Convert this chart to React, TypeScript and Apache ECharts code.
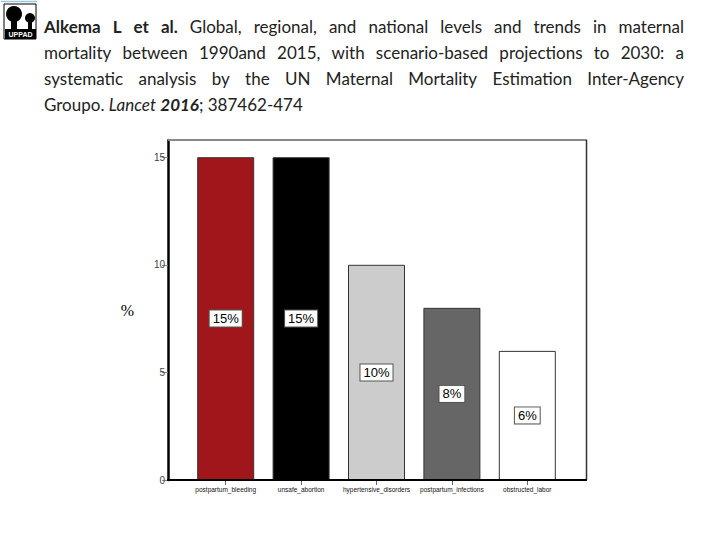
import React, { useEffect, useRef } from "react";
import * as echarts from "echarts";

const categories = [
  "postpartum_bleeding",
  "unsafe_abortion",
  "hypertensive_disorders",
  "postpartum_infections",
  "obstructed_labor",
];
const values = [15, 15, 10, 8, 6];
const barColors = ["#A1161A", "#000000", "#CCCCCC", "#666666", "#FFFFFF"];
const yTicks = [0, 5, 10, 15];
const yMax = 15.8;

type Run = { t: string; w?: string; s?: string };
const titleLines: Run[][] = [
  [{ t: "Alkema L et al.", w: "bold" }, { t: " Global, regional, and national levels and trends in maternal" }],
  [{ t: "mortality between 1990and 2015, with scenario-based projections to 2030: a" }],
  [{ t: "systematic analysis by the UN Maternal Mortality Estimation Inter-Agency" }],
  [{ t: "Groupo. " }, { t: "Lancet", s: "italic" }, { t: " " }, { t: "2016", w: "bold", s: "italic" }, { t: "; 387462-474" }],
];
const justifyLine = [true, true, true, false];

const TITLE_FONT = "Lato";
const TITLE_SIZE = 17;
const TITLE_LEFT = 44;
const TITLE_RIGHT = 684;
const TITLE_TOP = 26;
const TITLE_STEP = 26.3;

function buildTitle(): any[] {
  const canvas = document.createElement("canvas");
  const ctx = canvas.getContext("2d")!;
  const fontStr = (r: Run) =>
    `${r.s || "normal"} ${r.w || "normal"} ${TITLE_SIZE}px ${TITLE_FONT}`;
  const measure = (text: string, r: Run) => {
    ctx.font = fontStr(r);
    return ctx.measureText(text).width;
  };
  const out: any[] = [];
  titleLines.forEach((runs, li) => {
    const words: { text: string; run: Run }[][] = [[]];
    runs.forEach((r) => {
      const parts = r.t.split(" ");
      parts.forEach((p, i) => {
        if (i > 0) words.push([]);
        if (p.length) words[words.length - 1].push({ text: p, run: r });
      });
    });
    const ws = words.filter((w) => w.length > 0);
    const widths = ws.map((w) => w.reduce((a, p) => a + measure(p.text, p.run), 0));
    const total = widths.reduce((a, b) => a + b, 0);
    const gap = justifyLine[li]
      ? (TITLE_RIGHT - TITLE_LEFT - total) / (ws.length - 1)
      : measure(" ", {} as Run);
    let x = TITLE_LEFT;
    const y = TITLE_TOP + li * TITLE_STEP;
    ws.forEach((w, wi) => {
      let px = x;
      w.forEach((p) => {
        out.push({
          type: "text",
          x: px,
          y,
          style: {
            text: p.text,
            fontFamily: TITLE_FONT,
            fontSize: TITLE_SIZE,
            fontWeight: p.run.w || "normal",
            fontStyle: p.run.s || "normal",
            fill: "#222",
            verticalAlign: "middle",
            align: "left",
          },
        });
        px += measure(p.text, p.run);
      });
      x += widths[wi] + gap;
    });
  });
  return out;
}

function buildLogo(): any[] {
  return [
    { type: "line", shape: { x1: 1, y1: 1.5, x2: 37, y2: 1.5 }, style: { stroke: "#9CC7DD", lineWidth: 1.5 } },
    { type: "rect", shape: { x: 4, y: 4, width: 32, height: 35 }, style: { fill: "#fff", stroke: "#000", lineWidth: 1 } },
    { type: "circle", shape: { cx: 14, cy: 14, r: 8 }, style: { fill: "#000" } },
    { type: "rect", shape: { x: 11, y: 18, width: 6, height: 12 }, style: { fill: "#000" } },
    { type: "circle", shape: { cx: 30, cy: 18, r: 5 }, style: { fill: "#000" } },
    { type: "rect", shape: { x: 28, y: 20, width: 4, height: 10 }, style: { fill: "#000" } },
    { type: "rect", shape: { x: 5, y: 29, width: 31, height: 10 }, style: { fill: "#000" } },
    {
      type: "text",
      x: 20.5,
      y: 34.5,
      style: {
        text: "UPPAD",
        fontFamily: "Liberation Sans",
        fontSize: 7,
        fontWeight: "bold",
        fill: "#fff",
        align: "center",
        verticalAlign: "middle",
      },
    },
  ];
}

const PLOT_L = 168;
const PLOT_R = 587;
const PLOT_T = 140;
const PLOT_B = 480;

export default function App() {
  const ref = useRef<HTMLDivElement>(null);
  useEffect(() => {
    if (!ref.current) return;
    const chart = echarts.init(ref.current, undefined, { renderer: "svg" });
    const frame = [
      { type: "line", z: 10, shape: { x1: PLOT_L, y1: PLOT_T, x2: PLOT_R, y2: PLOT_T }, style: { stroke: "#888", lineWidth: 2 } },
      { type: "line", z: 10, shape: { x1: PLOT_R - 0.5, y1: PLOT_T, x2: PLOT_R - 0.5, y2: PLOT_B }, style: { stroke: "#333", lineWidth: 1.5 } },
      { type: "line", z: 10, shape: { x1: PLOT_L - 1, y1: PLOT_B, x2: PLOT_R, y2: PLOT_B }, style: { stroke: "#000", lineWidth: 2 } },
    ];
    chart.setOption({
      animation: false,
      backgroundColor: "#fff",
      grid: { left: 188, right: 720 - 565, top: PLOT_T, bottom: 540 - PLOT_B },
      xAxis: {
        type: "category",
        data: categories,
        axisLine: { show: false },
        axisTick: { show: true, alignWithLabel: true, length: 5, lineStyle: { color: "#666" } },
        axisLabel: { interval: 0, fontSize: 6.5, color: "#111", margin: 6, fontFamily: "Liberation Sans" },
      },
      yAxis: {
        type: "value",
        min: 0,
        max: yMax,
        offset: 20,
        splitLine: { show: false },
        axisLine: { show: true, lineStyle: { color: "#000", width: 2.5 } },
        axisTick: { show: true, length: 6, lineStyle: { color: "#888" }, customValues: yTicks },
        axisLabel: { customValues: yTicks, fontSize: 10, color: "#444", margin: 3, fontFamily: "Liberation Sans Narrow, Liberation Sans" },
        name: "%",
        nameLocation: "middle",
        nameRotate: 0,
        nameGap: 34,
        nameTextStyle: { fontFamily: "Liberation Serif", fontSize: 16, color: "#000" },
      },
      series: [
        {
          type: "bar",
          barWidth: 57,
          data: values.map((v, i) => ({
            value: v,
            itemStyle: { color: barColors[i], borderColor: "#333", borderWidth: 1 },
          })),
          label: {
            show: true,
            position: "inside",
            formatter: "{c}%",
            fontSize: 13,
            fontFamily: "Liberation Sans",
            color: "#000",
            backgroundColor: "#fff",
            borderColor: "#555",
            borderWidth: 1,
            padding: [2, 3, 1, 3],
          },
        },
      ],
      graphic: [...frame, ...buildLogo(), ...buildTitle()],
    });
    return () => chart.dispose();
  }, []);
  return (
    <div
      ref={ref}
      style={{ position: "fixed", left: 0, top: 0, width: 720, height: 540, background: "#fff" }}
    />
  );
}
